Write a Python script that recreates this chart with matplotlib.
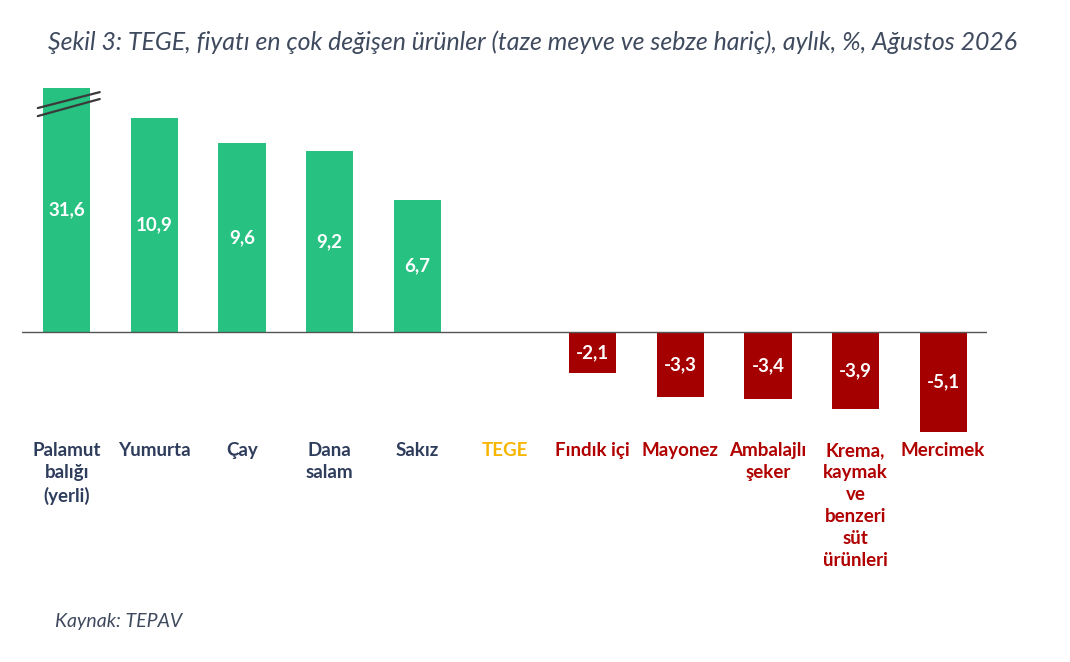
import matplotlib
matplotlib.use("Agg")
import matplotlib.pyplot as plt

categories = ["Palamut\nbalığı\n(yerli)", "Yumurta", "Çay", "Dana\nsalam", "Sakız", "TEGE",
              "Fındık içi", "Mayonez", "Ambalajlı\nşeker", "Krema,\nkaymak\nve\nbenzeri\nsüt\nürünleri",
              "Mercimek"]
values = [31.6, 10.9, 9.6, 9.2, 6.7, None, -2.1, -3.3, -3.4, -3.9, -5.1]
value_labels = ["31,6", "10,9", "9,6", "9,2", "6,7", "", "-2,1", "-3,3", "-3,4", "-3,9", "-5,1"]

GREEN = "#27C181"
RED = "#A50000"
NAVY = "#2F3D5C"
LABEL_RED = "#B00000"
GOLD = "#F7B500"

W, H = 1070, 662
fig = plt.figure(figsize=(W / 100, H / 100), dpi=100)
# axes in pixel coords: left 22, right 987, top 88, bottom 440
ax = fig.add_axes([22 / W, 1 - 440 / H, (987 - 22) / W, (440 - 88) / H])

ymax, ymin = 12.42, -5.50
xs = list(range(len(categories)))
for x, v, lab in zip(xs, values, value_labels):
    if v is None:
        continue
    col = GREEN if v > 0 else RED
    ax.bar(x, v, width=0.54, color=col, zorder=2)
    shown = min(v, ymax)
    ax.text(x, shown / 2, lab, ha="center", va="center", color="white",
            fontsize=13.5, fontweight="bold", family="Lato", zorder=3)

ax.axhline(0, color="#555555", lw=1.0, zorder=3)
ax.set_xlim(-0.51, 10.5)
ax.set_ylim(ymin, ymax)

# break marks on truncated first bar
for y0, y1 in [(11.40, 12.21), (10.99, 11.86)]:
    ax.plot([-0.33, 0.377], [y0, y1], color="#3a3a3a", lw=1.6, zorder=4, clip_on=False,
            solid_capstyle="round")

for s in ax.spines.values():
    s.set_visible(False)
ax.set_yticks([])
ax.set_xticks(xs)
ax.set_xticklabels(categories, fontsize=13.5, fontweight="bold", family="Lato",
                   linespacing=1.36, va="top")
ax.tick_params(axis="x", length=0, pad=1.5)
label_colors = [NAVY] * 5 + [GOLD] + [LABEL_RED] * 5
for t, c in zip(ax.get_xticklabels(), label_colors):
    t.set_color(c)

fig.text(48 / W, 1 - 42 / H, "Şekil 3: TEGE, fiyatı en çok değişen ürünler (taze meyve ve sebze hariç), aylık, %, Ağustos 2026",
         ha="left", va="center", fontsize=17.9, style="italic", color="#3F4A5E", family="Lato")
fig.text(55 / W, 1 - 622 / H, "Kaynak: TEPAV", ha="left", va="center", fontsize=14,
         style="italic", color="#3F4A5E", family="Lato")

fig.savefig("out.png", dpi=100, facecolor="white")
